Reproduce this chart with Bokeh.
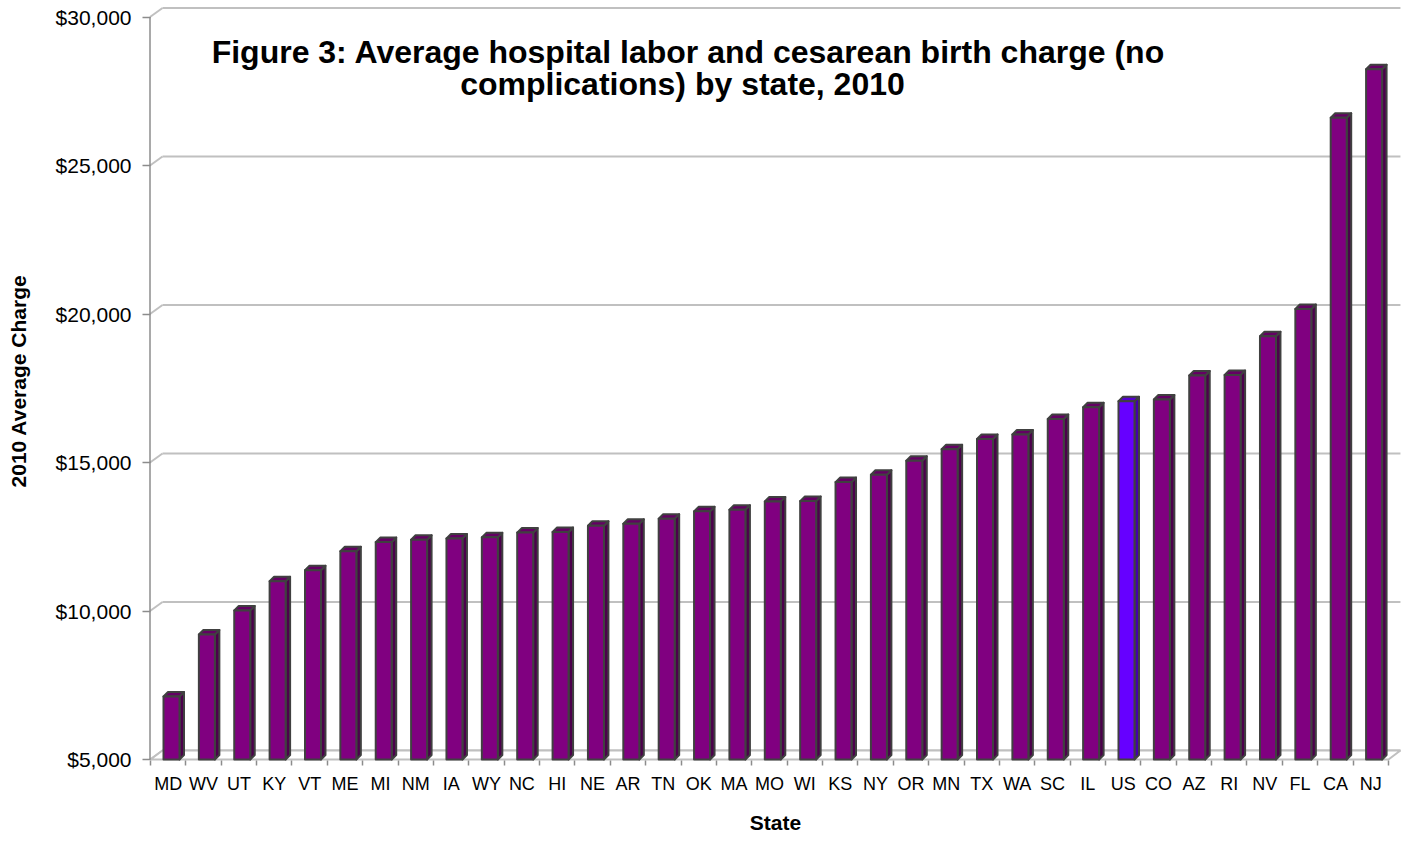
from bokeh.plotting import figure
from bokeh.models import Range1d, FixedTicker, NumeralTickFormatter, Label
from bokeh.embed import file_html
from bokeh.resources import INLINE

# ---------------- data ----------------
states = ["MD", "WV", "UT", "KY", "VT", "ME", "MI", "NM", "IA", "WY", "NC", "HI",
          "NE", "AR", "TN", "OK", "MA", "MO", "WI", "KS", "NY", "OR", "MN", "TX",
          "WA", "SC", "IL", "US", "CO", "AZ", "RI", "NV", "FL", "CA", "NJ"]
charges = [7120, 9210, 10020, 11000, 11370, 12010, 12320, 12400, 12445, 12480, 12640, 12660,
           12870, 12940, 13110, 13355, 13410, 13690, 13700, 14340, 14590, 15060, 15450, 15790,
           15940, 16465, 16860, 17060, 17120, 17930, 17950, 19250, 20170, 26610, 28240]
highlight = "US"
y_ticks = [5000, 10000, 15000, 20000, 25000, 30000]
title_lines = ["Figure 3: Average hospital labor and cesarean birth charge (no",
               "complications) by state, 2010"]
x_title = "State"
y_title = "2010 Average Charge"

# ---------------- geometry ----------------
FONT = "Liberation Sans"
W = 35.37                      # px per category
PPU = 148.5 / 5000.0           # px per data unit
FIG_W, FIG_H = 1403, 844
LEFT, RIGHT, TOP, BOTTOM = 148, 1, 0, 83
frame_w = FIG_W - LEFT - RIGHT
frame_h = FIG_H - TOP - BOTTOM
x_start = -2.0 / W
x_end = x_start + frame_w / W
base = y_ticks[0]
y_start = base - 2.0 / PPU
y_end = y_start + frame_h / PPU


def dxp(px):
    return px / W


def dyp(px):
    return px / PPU


n = len(states)
DEPTH_X, DEPTH_Y = dxp(12), dyp(9)     # floor / wall depth
BAR_L, BAR_R = dxp(13), dxp(29)        # front face inside category
BDX, BDY = dxp(4.5), dyp(4.5)          # bar depth

p = figure(width=FIG_W, height=FIG_H,
           x_range=Range1d(x_start, x_end), y_range=Range1d(y_start, y_end),
           output_backend="svg", toolbar_location=None,
           min_border_left=LEFT, min_border_right=RIGHT,
           min_border_top=TOP, min_border_bottom=BOTTOM)
p.outline_line_color = None
p.xgrid.visible = False
p.ygrid.visible = False
p.background_fill_color = "white"

GRID = "#c0c0c0"
AXIS = "#8c8c8c"

# back wall gridlines
p.segment(x0=[DEPTH_X] * len(y_ticks), y0=[t + DEPTH_Y for t in y_ticks],
          x1=[n + DEPTH_X] * len(y_ticks), y1=[t + DEPTH_Y for t in y_ticks],
          line_color=GRID, line_width=2)
# side wall diagonals
p.segment(x0=[-0.5 / W] * len(y_ticks), y0=y_ticks,
          x1=[DEPTH_X] * len(y_ticks), y1=[t + DEPTH_Y for t in y_ticks],
          line_color=GRID, line_width=2)
# floor
p.patch(x=[0, n, n + DEPTH_X, DEPTH_X], y=[base, base, base + DEPTH_Y, base + DEPTH_Y],
        fill_color="white", line_color=GRID, line_width=2)
# value axis line
p.segment(x0=[-0.5 / W], y0=[base], x1=[-0.5 / W], y1=[y_ticks[-1]],
          line_color=AXIS, line_width=1.5)

# bars
front_cols = ["#6600FF" if s == highlight else "#800080" for s in states]
side_cols = ["#4400AA" if s == highlight else "#4C004C" for s in states]
top_cols = ["#5500D0" if s == highlight else "#640064" for s in states]
lefts = [i + BAR_L for i in range(n)]
rights = [i + BAR_R for i in range(n)]
side_xs = [[r, r + BDX, r + BDX, r] for r in rights]
side_ys = [[base, base + BDY, v + BDY, v] for v in charges]
top_xs = [[l, l + BDX, r + BDX, r] for l, r in zip(lefts, rights)]
top_ys = [[v, v + BDY, v + BDY, v] for v in charges]
OUT = "#404040"
p.patches(xs=side_xs, ys=side_ys, fill_color=side_cols, line_color=OUT, line_width=2, line_join="round")
p.patches(xs=top_xs, ys=top_ys, fill_color=top_cols, line_color=OUT, line_width=2, line_join="round")
p.quad(left=lefts, right=rights, bottom=[base] * n, top=charges,
       fill_color=front_cols, line_color=OUT, line_width=2, line_join="round")

# x axis
xa = p.xaxis[0]
xa.ticker = FixedTicker(ticks=[i + 0.5 for i in range(n)], minor_ticks=list(range(n + 1)))
xa.major_label_overrides = {i + 0.5: s for i, s in enumerate(states)}
xa.axis_line_color = None
xa.major_tick_line_color = None
xa.minor_tick_line_color = AXIS
xa.minor_tick_line_width = 1.5
xa.minor_tick_in = 1
xa.minor_tick_out = 4
xa.major_label_standoff = 6
xa.major_label_text_font = FONT
xa.major_label_text_font_size = "18px"
xa.major_label_text_color = "black"
xa.axis_label = x_title
xa.axis_label_text_font = FONT
xa.axis_label_text_font_size = "21px"
xa.axis_label_text_font_style = "bold"
xa.axis_label_text_color = "black"
xa.axis_label_standoff = 14

# y axis
ya = p.yaxis[0]
ya.ticker = FixedTicker(ticks=y_ticks, minor_ticks=[])
ya.formatter = NumeralTickFormatter(format="$0,0")
ya.axis_line_color = None
ya.major_tick_line_color = AXIS
ya.major_tick_line_width = 1.5
ya.major_tick_in = 2
ya.major_tick_out = 6
ya.major_label_standoff = 11
ya.major_label_text_font = FONT
ya.major_label_text_font_size = "21px"
ya.major_label_text_color = "black"
ya.axis_label = y_title
ya.axis_label_text_font = FONT
ya.axis_label_text_font_size = "21px"
ya.axis_label_text_font_style = "bold"
ya.axis_label_text_color = "black"
ya.axis_label_standoff = 23

# title inside plot
title_x = [dxp(688 - 150), dxp(682 - 150)]
title_y = [y_end - dyp(51), y_end - dyp(83)]
for txt, tx, ty in zip(title_lines, title_x, title_y):
    p.add_layout(Label(x=tx, y=ty, text=txt, text_align="center", text_baseline="alphabetic",
                       text_font=FONT, text_font_size="32px", text_font_style="bold",
                       text_color="black"))

open("out.html", "w").write(file_html(p, INLINE))
